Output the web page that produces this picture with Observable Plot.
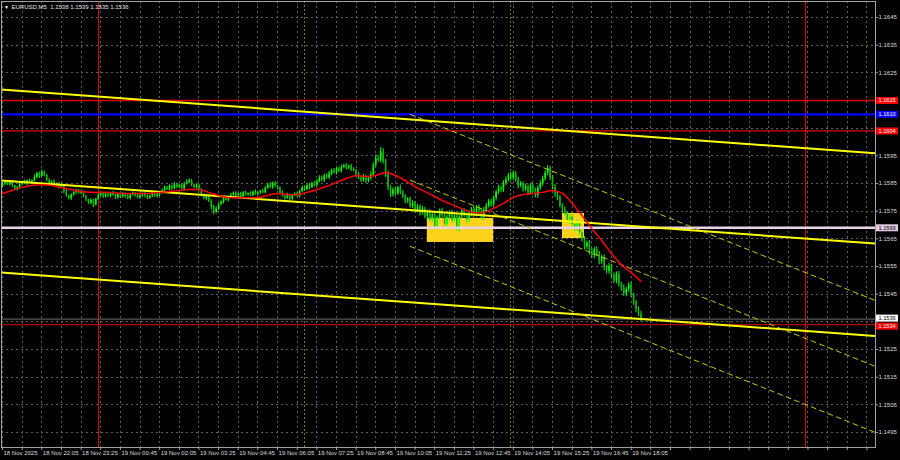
<!DOCTYPE html>
<html>
<head>
<meta charset="utf-8">
<script src="https://cdn.jsdelivr.net/npm/d3@7"></script>
<script src="https://cdn.jsdelivr.net/npm/@observablehq/plot@0.6"></script>
<style>
html, body { margin: 0; padding: 0; background: #000; overflow: hidden; }
svg { display: block; }
</style>
</head>
<body>
<div id="chart"></div>
<script>
// ---------------- data ----------------
const symbolName = "EURUSD,M5";
const lastBarOHLC = [1.1538, 1.1539, 1.1535, 1.1536];
const firstBarTime = "2025-11-18T20:45:00Z";
const barMinutes = 5;
const pipBase = 1.15;          // prices below are pips above 1.1500
const firstOpenPips = 84.0;
const closePips = [
  84.8,85.3,84.6,85.5,84.2,82.9,83.4,84.7,85.6,85.0,
  85.9,85.2,86.0,87.2,88.5,87.6,89.1,88.0,86.1,85.0,
  85.6,84.3,84.9,83.7,84.2,81.9,80.4,79.6,80.8,81.7,
  82.4,81.5,82.0,80.3,79.1,78.0,78.9,77.2,79.4,80.6,
  81.3,80.2,81.0,80.5,81.4,80.7,79.8,80.9,80.1,81.2,
  80.4,79.6,80.8,81.5,80.6,79.9,80.7,81.3,80.2,79.7,
  80.5,81.1,80.3,80.9,81.6,82.4,83.5,82.8,84.1,83.2,
  84.6,83.7,84.3,83.0,84.8,85.4,86.0,84.5,83.6,84.2,
  82.7,80.9,79.5,80.3,78.8,76.5,74.6,75.8,77.4,78.3,
  79.6,78.9,80.1,80.8,81.5,80.6,81.2,80.4,81.7,80.9,
  81.4,80.7,81.9,81.1,81.6,82.3,81.8,83.2,84.5,83.6,
  85.1,84.0,83.3,81.6,80.4,79.7,80.9,79.4,80.6,81.2,
  80.5,82.1,83.4,82.8,84.2,83.6,85.0,84.4,85.7,86.9,
  86.2,87.8,87.1,88.4,89.6,88.9,90.3,89.5,90.8,91.4,
  90.6,91.2,90.1,89.7,88.3,87.0,86.2,87.4,85.8,86.9,
  88.2,91.6,94.1,93.3,96.5,93.0,88.4,83.6,80.9,82.7,
  81.3,83.5,81.9,80.2,78.6,79.4,76.8,77.9,75.3,76.6,
  74.2,75.8,73.1,74.6,71.9,73.7,69.4,72.5,75.2,73.4,
  70.2,72.8,74.5,71.6,73.2,68.7,72.9,75.1,73.6,71.8,
  74.0,75.7,73.8,76.4,74.9,72.7,75.5,76.8,78.5,77.3,
  79.6,81.8,83.4,82.6,85.1,86.3,87.8,86.9,88.6,86.4,
  84.2,85.0,82.9,83.8,81.5,84.1,82.7,80.6,83.3,84.9,
  86.7,88.8,90.4,87.2,83.6,81.2,79.8,77.0,75.4,73.8,
  71.6,72.9,70.2,68.7,70.5,67.3,64.8,62.1,63.5,60.4,
  58.9,61.2,59.5,56.8,58.3,54.6,53.2,55.1,51.7,49.8,
  52.3,48.6,47.2,45.1,46.8,48.3,44.6,42.0,39.5,37.8,
  36.0
];
const upperWickTenths = [
  5,3,7,4,6,2,5,8,3,6,4,7,3,9,5,6,8,4,3,6,
  4,7,2,5,6,3,8,4,5,3,6,4,7,3,5,2,6,4,3,7,
  5,3,6,4,2,7,4,5,3,6,4,8,3,5,2,6,4,3,5,7,
  3,5,4,6,3,7,5,4,6,3,8,4,5,3,6,9,7,4,3,5,
  6,4,3,7,5,4,6,8,3,5,4,6,3,7,4,5,3,6,4,5,
  3,6,4,7,5,3,6,8,5,9,4,6,3,5,7,4,6,3,5,4,
  6,5,7,4,6,8,5,7,6,9,8,6,7,9,6,8,5,7,9,6,
  8,5,7,6,4,8,6,9,5,7,10,8,12,9,15,11,7,9,6,8,
  7,5,9,6,8,5,7,9,6,8,7,10,6,8,9,7,11,8,6,9,
  7,9,6,8,10,7,6,9,8,7,10,6,9,7,8,6,9,10,8,7,
  9,8,10,7,9,11,8,12,10,7,9,8,6,10,7,9,8,6,9,11,
  10,8,11,9,7,10,8,9,7,11,8,10,9,7,12,8,9,10,7,9,
  11,8,9,10,7,9,8,11,7,10,8,9,7,12,8,9,10,7,8,9,10
];
const lowerWickTenths = [
  4,6,3,5,7,4,6,3,5,4,7,3,6,4,5,8,3,6,5,4,
  6,3,5,7,4,6,3,5,8,4,6,3,5,4,7,5,6,9,4,5,
  3,6,4,5,7,3,6,4,5,3,7,4,6,3,5,4,6,7,3,5,
  4,6,3,5,7,4,6,3,5,8,4,6,5,3,7,4,5,6,4,7,
  5,6,4,8,7,10,9,6,5,4,7,3,6,5,4,6,3,7,5,4,
  6,4,5,3,7,5,4,6,3,5,7,4,6,5,3,7,4,6,5,3,
  5,7,4,6,5,8,4,6,7,5,6,8,5,7,6,5,8,6,7,5,
  7,6,8,5,7,6,9,7,8,6,7,5,8,6,9,10,12,11,9,8,
  8,6,9,7,10,8,7,9,11,8,10,7,9,12,8,10,9,11,7,9,
  10,8,9,11,7,10,12,8,9,11,8,10,7,9,11,8,10,9,7,8,
  8,9,7,10,8,9,7,10,8,9,11,7,10,8,9,7,10,8,9,7,
  9,8,10,11,9,12,10,8,11,9,10,12,9,11,10,12,9,11,10,12,
  10,11,9,12,10,11,9,10,12,9,11,10,12,9,10,11,9,10,12,9,10
];
// red moving average, one reading every 4 bars (pips above 1.1500)
const maStepBars = 4;
const maPips = [
  81.4,82.5,83.6,84.3,84.6,84.3,83.6,82.8,82.1,81.8,
  81.8,81.8,81.4,81.4,81.4,81.4,81.8,82.1,82.5,82.8,
  82.8,81.8,80.7,79.9,79.9,79.9,79.9,80.7,81.4,81.0,
  81.0,81.8,82.8,83.9,85.4,86.8,87.9,87.5,87.9,89.0,
  87.9,86.1,83.9,82.1,80.3,78.5,77.1,75.6,74.5,74.5,
  76.0,77.8,79.9,81.0,81.4,81.8,82.5,81.4,77.8,73.4,
  68.7,64.4,59.7,55.7,52.8,49.6
];
const priceTicks = [1.1495,1.1505,1.1515,1.1525,1.1535,1.1545,1.1555,1.1565,
                    1.1575,1.1585,1.1595,1.1605,1.1615,1.1625,1.1635,1.1645];
const timeTickTimes = [
  "2025-11-18T20:45:00Z","2025-11-18T22:05:00Z","2025-11-18T23:25:00Z",
  "2025-11-19T00:45:00Z","2025-11-19T02:05:00Z","2025-11-19T03:25:00Z",
  "2025-11-19T04:45:00Z","2025-11-19T06:05:00Z","2025-11-19T07:25:00Z",
  "2025-11-19T08:45:00Z","2025-11-19T10:05:00Z","2025-11-19T11:25:00Z",
  "2025-11-19T12:45:00Z","2025-11-19T14:05:00Z","2025-11-19T15:25:00Z",
  "2025-11-19T16:45:00Z","2025-11-19T18:05:00Z"
];
const timeTickLabels = [
  "18 Nov 2025","18 Nov 22:05","18 Nov 23:25","19 Nov 00:45","19 Nov 02:05",
  "19 Nov 03:25","19 Nov 04:45","19 Nov 06:05","19 Nov 07:25","19 Nov 08:45",
  "19 Nov 10:05","19 Nov 11:25","19 Nov 12:45","19 Nov 14:05","19 Nov 15:25",
  "19 Nov 16:45","19 Nov 18:05"
];
const gridStepBars = 8;
const daySeparators = ["2025-11-19T00:00:00Z", "2025-11-20T00:00:00Z"];
const sessionMarks = ["2025-11-19T07:00:00Z", "2025-11-19T14:00:00Z"];
const boxStarts = ["2025-11-19T11:10:00Z", "2025-11-19T15:45:00Z"];
const boxEnds = ["2025-11-19T13:25:00Z", "2025-11-19T16:30:00Z"];
const boxTops = [1.15724, 1.15742];
const boxBottoms = [1.15637, 1.15651];
const trendTimes = ["2025-11-18T20:05:00Z", "2025-11-20T02:45:00Z"];
const trendUpper = [1.16195, 1.15956];
const trendMiddle = [1.15866, 1.15630];
const trendLower = [1.15533, 1.15296];
const channelTimes = ["2025-11-19T10:35:00Z", "2025-11-20T02:45:00Z"];
const channelUpper = [1.16100, 1.15411];
const channelMiddle = [1.15862, 1.15173];
const channelLower = [1.15623, 1.14934];
const redLevels = [1.1615, 1.1604];
const blueLevel = 1.1610;
const pinkLevel = 1.1569;
const supportLevel = 1.1534;
const bidPrice = 1.1536;

// ---------------- view settings ----------------
const visibleBars = [-0.41, 355.5];
const priceDomain = [1.14896, 1.165078];
const W = 900, H = 460, mL = 1, mR = 25, mT = 1, mB = 13;

// ---------------- build ----------------
const t0 = Date.parse(firstBarTime);
const barMs = barMinutes * 60000;
const tAt = b => new Date(t0 + b * barMs);
const pipsToPrice = p => pipBase + p / 10000;

const candles = closePips.map((c, i) => {
  const o = i === 0 ? firstOpenPips : closePips[i - 1];
  return {
    t: tAt(i),
    open: pipsToPrice(o),
    close: pipsToPrice(c),
    high: pipsToPrice(Math.max(o, c) + upperWickTenths[i] / 10),
    low: pipsToPrice(Math.min(o, c) - lowerWickTenths[i] / 10)
  };
});
const ma = maPips.map((p, k) => ({t: tAt(k * maStepBars), price: pipsToPrice(p)}));

const msPerPx = (visibleBars[1] - visibleBars[0]) * barMs / (W - mL - mR);
const pricePerPx = (priceDomain[1] - priceDomain[0]) / (H - mT - mB);
const xEnd = tAt(visibleBars[1]);
const afterEnd = n => new Date(+xEnd + n * msPerPx);

const gridTimes = d3.range(0, visibleBars[1], gridStepBars).map(tAt);
const timeTicks = timeTickTimes.map((s, i) => ({t: new Date(s), label: timeTickLabels[i]}));
const boxes = boxStarts.map((s, i) => ({x1: new Date(s), x2: new Date(boxEnds[i]), y1: boxBottoms[i], y2: boxTops[i]}));
const seg = (times, prices) => times.map((s, i) => ({t: new Date(s), price: prices[i]}));

const tagLabels = [
  {price: bidPrice, bg: "#ffffff", fg: "#000000", nudge: -1},
  {price: supportLevel, bg: "#ff0000", fg: "#ffffff", nudge: 1.5},
  {price: pinkLevel, bg: "#e3c9e3", fg: "#000000", nudge: 0},
  {price: redLevels[0], bg: "#ff0000", fg: "#ffffff", nudge: 0},
  {price: blueLevel, bg: "#0000ff", fg: "#ffffff", nudge: 0},
  {price: redLevels[1], bg: "#ff0000", fg: "#ffffff", nudge: 0}
];
// MT4 hides scale labels that fall under a price tag
const axisLabels = priceTicks.filter(p => tagLabels.every(t => Math.abs(t.price - p) / pricePerPx > 6));

const grid = {stroke: "#5e5e5e", strokeDasharray: "2,3", strokeWidth: 1, shapeRendering: "crispEdges"};
const yMin = priceDomain[0];
const fontSize = 6;

const chart = Plot.plot({
  width: W, height: H,
  marginLeft: mL, marginRight: mR, marginTop: mT, marginBottom: mB,
  style: {background: "#000", fontFamily: "'Liberation Sans', Arial, sans-serif", fontSize: "6px", color: "#dcdcdc"},
  x: {type: "utc", domain: [tAt(visibleBars[0]), xEnd], axis: null},
  y: {type: "linear", domain: priceDomain, axis: null},
  marks: [
    // grid
    Plot.ruleY(priceTicks, {y: d => d, ...grid}),
    Plot.ruleX(gridTimes, {x: d => d, ...grid}),
    // rectangles (background objects)
    Plot.rect(boxes, {x1: "x1", x2: "x2", y1: "y1", y2: "y2", fill: "#ffd21e"}),
    // vertical markers
    Plot.ruleX(sessionMarks, {x: d => new Date(d), stroke: "#3f8f1c", strokeDasharray: "2,2", strokeWidth: 1, shapeRendering: "crispEdges"}),
    Plot.ruleX(daySeparators, {x: d => new Date(d), stroke: "#e00000", strokeWidth: 1, shapeRendering: "crispEdges"}),
    // candles
    Plot.ruleX(candles, {x: "t", y1: "low", y2: "high", stroke: "#00ff00", strokeWidth: 1}),
    Plot.ruleX(candles, {x: "t", y1: "open", y2: "close", strokeWidth: 1.6,
      stroke: d => d.close >= d.open ? "#00ff00" : "#14b014"}),
    // horizontal levels
    Plot.ruleY([bidPrice], {y: d => d, stroke: "#6e6e6e", strokeWidth: 1}),
    Plot.ruleY([supportLevel], {y: d => d, stroke: "#b00000", strokeWidth: 1.2}),
    Plot.ruleY(redLevels, {y: d => d, stroke: "#e00000", strokeWidth: 1.3}),
    Plot.ruleY([blueLevel], {y: d => d, stroke: "#0000ff", strokeWidth: 2.2}),
    Plot.ruleY([pinkLevel], {y: d => d, stroke: "#e8d4e8", strokeWidth: 2.4}),
    // trend lines
    Plot.line(seg(trendTimes, trendUpper), {x: "t", y: "price", stroke: "#ffff00", strokeWidth: 2, clip: true}),
    Plot.line(seg(trendTimes, trendMiddle), {x: "t", y: "price", stroke: "#ffff00", strokeWidth: 2, clip: true}),
    Plot.line(seg(trendTimes, trendLower), {x: "t", y: "price", stroke: "#ffff00", strokeWidth: 2, clip: true}),
    // regression channel
    Plot.line(seg(channelTimes, channelUpper), {x: "t", y: "price", stroke: "#c8c800", strokeWidth: 1, strokeDasharray: "5,4", clip: true}),
    Plot.line(seg(channelTimes, channelMiddle), {x: "t", y: "price", stroke: "#c8c800", strokeWidth: 1, strokeDasharray: "5,4", clip: true}),
    Plot.line(seg(channelTimes, channelLower), {x: "t", y: "price", stroke: "#c8c800", strokeWidth: 1, strokeDasharray: "5,4", clip: true}),
    // moving average
    Plot.line(ma, {x: "t", y: "price", stroke: "#ff0000", strokeWidth: 1.5, curve: "catmull-rom"}),
    // frame
    Plot.frame({stroke: "#a0a0a0", strokeWidth: 1}),
    // price axis (right)
    Plot.ruleY(priceTicks, {y: d => d, x1: () => xEnd, x2: () => afterEnd(3), stroke: "#a0a0a0"}),
    Plot.text(axisLabels, {y: d => d, text: d => d.toFixed(4), frameAnchor: "right", dx: 3,
      textAnchor: "start", lineAnchor: "middle", fill: "#dcdcdc", fontSize}),
    // price tags
    Plot.ruleY(tagLabels, {y: d => d.price - d.nudge * pricePerPx, x1: () => afterEnd(1), x2: () => afterEnd(23), stroke: "bg", strokeWidth: 7}),
    Plot.text(tagLabels, {y: d => d.price - d.nudge * pricePerPx, text: d => d.price.toFixed(4), frameAnchor: "right", dx: 3,
      textAnchor: "start", lineAnchor: "middle", fill: "fg", fontSize: 5.6}),
    // time axis (bottom)
    Plot.ruleX(gridTimes, {x: d => d, y1: () => yMin, y2: () => yMin - 3 * pricePerPx, stroke: "#a0a0a0"}),
    Plot.text(timeTicks, {x: "t", text: "label", frameAnchor: "bottom", dy: 6, dx: 1,
      textAnchor: "start", lineAnchor: "middle", fill: "#dcdcdc", fontSize}),
    // title
    Plot.text(["\u25BC"], {frameAnchor: "top-left", dx: 5, dy: 6, textAnchor: "middle", lineAnchor: "middle", fill: "#ffffff", fontSize: 5}),
    Plot.text([`${symbolName}  ${lastBarOHLC.map(v => v.toFixed(4)).join(" ")}`], {frameAnchor: "top-left", dx: 10, dy: 6,
      textAnchor: "start", lineAnchor: "middle", fill: "#e6e6e6", fontSize})
  ]
});
document.getElementById("chart").appendChild(chart);
</script>
</body>
</html>
